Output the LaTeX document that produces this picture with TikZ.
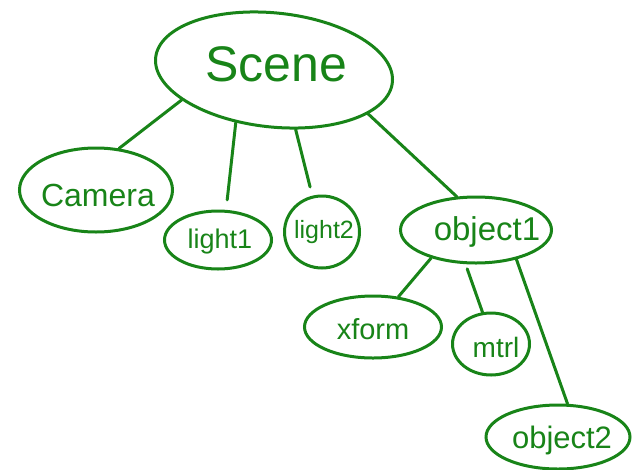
\documentclass[tikz,border=0pt]{standalone}
\usepackage{fontspec}
\setmainfont{Liberation Sans}
\usetikzlibrary{shapes.geometric}
\definecolor{pen}{RGB}{24,132,24}
\begin{document}
\begin{tikzpicture}[x=1pt,y=-1pt,
  ell/.style={draw=pen, line width=3pt, ellipse, inner sep=0pt},
  lbl/.style={text=pen, inner sep=0pt},
  edge/.style={draw=pen, line width=3pt, line cap=round}]
\useasboundingbox (0,0) rectangle (636,469);
% nodes
\node[ell, minimum width=238pt, minimum height=114pt, rotate=-6] (scene) at (274,70) {};
\node[lbl, font=\fontsize{50}{54}\selectfont] (scene-t) at (276,64) {Scene};
\node[ell, minimum width=153pt, minimum height=84pt] (camera) at (96,190) {};
\node[lbl, font=\fontsize{32}{36}\selectfont] (camera-t) at (98,195) {Camera};
\node[ell, minimum width=107pt, minimum height=58pt] (light1) at (218,240) {};
\node[lbl, font=\fontsize{27}{30}\selectfont] (light1-t) at (220,242) {light1};
\node[ell, minimum width=75pt, minimum height=72pt] (light2) at (322,232) {};
\node[lbl, font=\fontsize{25}{28}\selectfont] (light2-t) at (324,232) {light2};
\node[ell, minimum width=151pt, minimum height=66pt] (object1) at (476,230) {};
\node[lbl, font=\fontsize{33}{36}\selectfont] (object1-t) at (487,232) {object1};
\node[ell, minimum width=137pt, minimum height=62pt] (xform) at (373,327) {};
\node[lbl, font=\fontsize{29}{32}\selectfont] (xform-t) at (373,329) {xform};
\node[ell, minimum width=77pt, minimum height=62pt] (mtrl) at (491,344) {};
\node[lbl, font=\fontsize{28}{30}\selectfont] (mtrl-t) at (496,347) {mtrl};
\node[ell, minimum width=144pt, minimum height=64pt] (object2) at (558,437) {};
\node[lbl, font=\fontsize{31}{34}\selectfont] (object2-t) at (562,440) {object2};
% connectors
\draw[edge] (scene.204) -- (camera.61);
\draw[edge, shorten >=10pt] (scene.240) -- (light1.75);
\draw[edge, shorten >=9pt] (scene.296) -- (light2.105);
\draw[edge] (scene.341) -- (object1.120);
\draw[edge] (object1.212) -- (xform.50);
\draw[edge, shorten <=5pt] (object1.253) -- (mtrl.105);
\draw[edge] (object1.324) -- (object2.74);
\end{tikzpicture}
\end{document}
